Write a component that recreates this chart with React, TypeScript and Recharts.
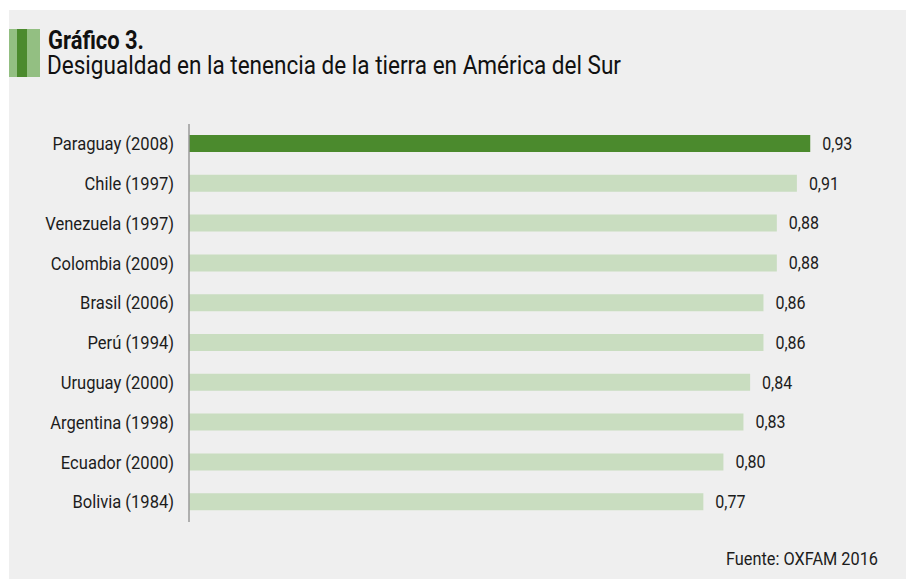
import React from 'react';
import { BarChart, Bar, XAxis, YAxis, Cell, LabelList } from 'recharts';

// Gini de tenencia de la tierra, de mayor a menor
const countries = [
  'Paraguay (2008)',
  'Chile (1997)',
  'Venezuela (1997)',
  'Colombia (2009)',
  'Brasil (2006)',
  'Perú (1994)',
  'Uruguay (2000)',
  'Argentina (1998)',
  'Ecuador (2000)',
  'Bolivia (1984)',
];
const giniValues = [0.93, 0.91, 0.88, 0.88, 0.86, 0.86, 0.84, 0.83, 0.8, 0.77];
const highlighted = 'Paraguay (2008)';

const data = countries.map((name, i) => ({ name, value: giniValues[i] }));

const FONT = 'Roboto, sans-serif';
const TICK_SQUEEZE = 0.92; // Roboto is wider than the condensed face of the original
const LABEL_SQUEEZE = 0.89;
const DARK_GREEN = '#4b8a2d';
const LIGHT_GREEN = '#c9ddc0';
const DECOR_GREEN = '#93bf82';
const TEXT = '#1c1c1c';

const CountryTick = (props: any) => {
  const { x, y, payload } = props;
  return (
    <text
      x={0}
      y={0}
      transform={`translate(${x},${y}) scale(${TICK_SQUEEZE},1)`}
      textAnchor="end"
      dominantBaseline="central"
      fontSize={18}
      fontFamily={FONT}
      fill={TEXT}
    >
      {payload.value}
    </text>
  );
};

const ValueLabel = (props: any) => {
  const { x, y, width, height, value } = props;
  const lx = Number(x) + Number(width) + 12;
  const ly = Number(y) + Number(height) / 2;
  return (
    <text
      x={0}
      y={0}
      transform={`translate(${lx},${ly}) scale(${LABEL_SQUEEZE},1)`}
      textAnchor="start"
      dominantBaseline="central"
      fontSize={18}
      fontFamily={FONT}
      fill={TEXT}
    >
      {Number(value).toFixed(2).replace('.', ',')}
    </text>
  );
};

export default function App() {
  return (
    <div
      style={{
        position: 'absolute',
        left: 9,
        top: 10,
        width: 897,
        height: 569,
        background: '#efefef',
        overflow: 'hidden',
      }}
    >
      <svg width={897} height={90} style={{ position: 'absolute', left: 0, top: 0 }}>
        <rect x={0} y={19} width={8} height={48} fill={DECOR_GREEN} />
        <rect x={8} y={19} width={10} height={48} fill={DARK_GREEN} />
        <rect x={18} y={19} width={13} height={48} fill={DECOR_GREEN} />
        <text
          x={39}
          y={38.5}
          fontSize={25}
          fontWeight={700}
          fontFamily={FONT}
          fill="#111"
          textLength={96}
          lengthAdjust="spacingAndGlyphs"
        >
          Gráfico 3.
        </text>
        <text
          x={38}
          y={64}
          fontSize={25}
          fontFamily={FONT}
          fill="#111"
          textLength={574}
          lengthAdjust="spacingAndGlyphs"
        >
          Desigualdad en la tenencia de la tierra en América del Sur
        </text>
      </svg>

      <div style={{ position: 'absolute', left: 0, top: 0 }}>
        <BarChart
          width={897}
          height={569}
          data={data}
          layout="vertical"
          margin={{ top: 114, right: 49, bottom: 57, left: 8 }}
          barSize={17}
        >
          <XAxis type="number" domain={[0, 1]} hide />
          <YAxis
            type="category"
            dataKey="name"
            width={172}
            axisLine={{ stroke: '#9a9a9a', strokeWidth: 1.5 }}
            tickLine={false}
            tickSize={0}
            tickMargin={15}
            tick={<CountryTick />}
            interval={0}
          />
          <Bar dataKey="value" isAnimationActive={false}>
            {data.map((d) => (
              <Cell key={d.name} fill={d.name === highlighted ? DARK_GREEN : LIGHT_GREEN} />
            ))}
            <LabelList dataKey="value" content={<ValueLabel />} />
          </Bar>
        </BarChart>
      </div>

      <svg width={897} height={569} style={{ position: 'absolute', left: 0, top: 0, pointerEvents: 'none' }}>
        <text
          x={717}
          y={555}
          fontSize={18.5}
          fontFamily={FONT}
          fill={TEXT}
          textLength={152}
          lengthAdjust="spacingAndGlyphs"
        >
          Fuente: OXFAM 2016
        </text>
      </svg>
    </div>
  );
}
